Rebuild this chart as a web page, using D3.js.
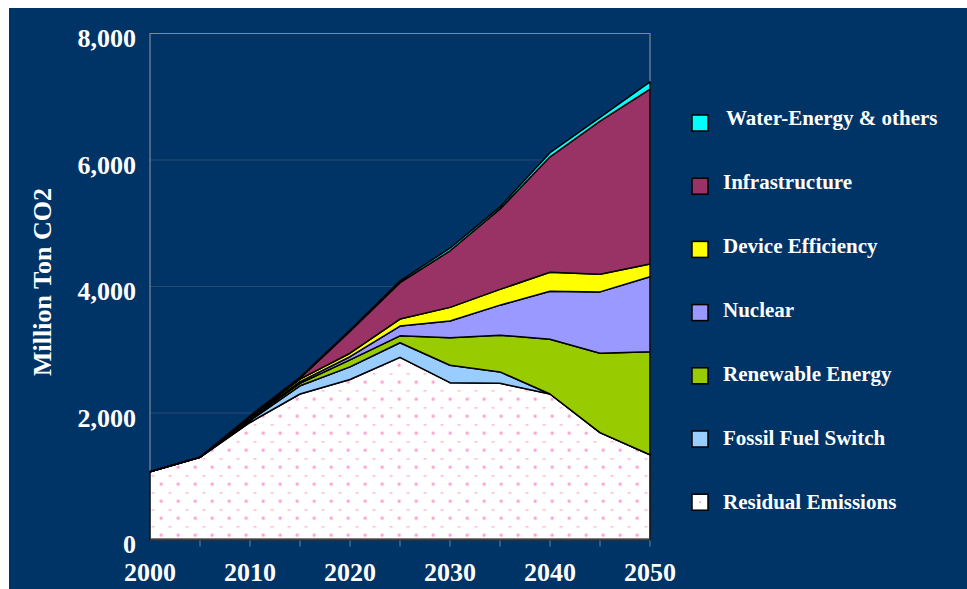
<!DOCTYPE html>
<html>
<head>
<meta charset="utf-8">
<script src="https://cdn.jsdelivr.net/npm/d3@7"></script>
<style>
  body { margin: 0; background: #ffffff; }
  text { font-family: "Liberation Serif", "Times New Roman", serif; font-weight: bold; fill: #ffffff; }
</style>
</head>
<body>
<div id="chart"></div>
<script>
// years on the x axis
var years = [2000, 2005, 2010, 2015, 2020, 2025, 2030, 2035, 2040, 2045, 2050];

// layers, bottom to top (million ton CO2)
var residual       = [1070, 1300, 1850, 2300, 2530, 2880, 2480, 2470, 2300, 1690, 1340];
var fossilSwitch   = [0, 0, 30, 130, 200, 230, 275, 180, 0, 0, 0];
var renewable      = [0, 0, 20, 40, 110, 110, 435, 580, 865, 1255, 1630];
var nuclear        = [0, 0, 10, 25, 50, 155, 265, 475, 760, 970, 1185];
var deviceEff      = [0, 0, 20, 40, 55, 110, 215, 250, 300, 280, 200];
var infrastructure = [0, 0, 15, 15, 350, 575, 895, 1270, 1825, 2420, 2765];
var waterEnergy    = [0, 0, 10, 15, 15, 30, 40, 35, 65, 60, 115];

var seriesNames = ["Residual Emissions", "Fossil Fuel Switch", "Renewable Energy", "Nuclear",
                   "Device Efficiency", "Infrastructure", "Water-Energy & others"];
var seriesValues = [residual, fossilSwitch, renewable, nuclear, deviceEff, infrastructure, waterEnergy];
var seriesColors = ["url(#dots)", "#99ccff", "#99cc00", "#9999ff", "#ffff00", "#993366", "#00ffff"];

var yTicks = [0, 2000, 4000, 6000, 8000];
var xLabels = [2000, 2010, 2020, 2030, 2040, 2050];

var W = 967, H = 589;

var svg = d3.select("#chart").append("svg")
    .attr("width", W)
    .attr("height", H);

// dotted fill for residual emissions
var defs = svg.append("defs");
var pat = defs.append("pattern")
    .attr("id", "dots")
    .attr("patternUnits", "userSpaceOnUse")
    .attr("x", 6.2).attr("y", 6.2)
    .attr("width", 17).attr("height", 17);
pat.append("rect").attr("width", 17).attr("height", 17).attr("fill", "#ffffff");
pat.append("circle").attr("cx", 2).attr("cy", 2).attr("r", 2).attr("fill", "#ffd0e8");
pat.append("circle").attr("cx", 2).attr("cy", 2).attr("r", 1.2).attr("fill", "#ff99cc");
pat.append("rect").attr("x", 9.5).attr("y", 10).attr("width", 2.8).attr("height", 1.4).attr("fill", "#ffaad4");

// navy background
svg.append("rect")
    .attr("x", 9).attr("y", 8)
    .attr("width", W - 9).attr("height", H - 8)
    .attr("fill", "#003366");

var x = d3.scaleLinear().domain([2000, 2050]).range([150, 650]);
var y = d3.scaleLinear().domain([0, 8000]).range([539.5, 33.5]);

// gridlines
svg.append("g")
    .selectAll("line")
    .data(yTicks.slice(1, 4))
    .enter()
    .append("line")
    .attr("x1", x(2000)).attr("x2", x(2050))
    .attr("y1", function (d) { return y(d); })
    .attr("y2", function (d) { return y(d); })
    .attr("stroke", "#264a75")
    .attr("stroke-width", 1);

// plot border (top, left, right)
svg.append("path")
    .attr("d", "M" + x(2000) + "," + y(0) + "V" + y(8000) + "H" + x(2050) + "V" + y(0))
    .attr("fill", "none")
    .attr("stroke", "#7f8a99")
    .attr("stroke-width", 1.2);

// stacked data
var table = years.map(function (yr, i) {
    var row = { year: yr };
    seriesNames.forEach(function (n, k) { row[n] = seriesValues[k][i]; });
    return row;
});
var stacked = d3.stack().keys(seriesNames)(table);

var area = d3.area()
    .x(function (d) { return x(d.data.year); })
    .y0(function (d) { return y(d[0]); })
    .y1(function (d) { return y(d[1]); });

svg.append("g")
    .selectAll("path")
    .data(stacked)
    .enter()
    .append("path")
    .attr("d", area)
    .attr("fill", function (d, i) { return seriesColors[i]; })
    .attr("stroke", "#000000")
    .attr("stroke-width", 1.5)
    .attr("stroke-linejoin", "round");

// x axis line and ticks
svg.append("line")
    .attr("x1", x(2000)).attr("x2", x(2050))
    .attr("y1", y(0)).attr("y2", y(0))
    .attr("stroke", "#404040")
    .attr("stroke-width", 2);

svg.append("g")
    .selectAll("line")
    .data(years.slice(1))
    .enter()
    .append("line")
    .attr("x1", function (d) { return x(d); })
    .attr("x2", function (d) { return x(d); })
    .attr("y1", y(0) + 1).attr("y2", y(0) + 7)
    .attr("stroke", "#6f86a3")
    .attr("stroke-width", 1);

svg.append("g")
    .selectAll("text")
    .data(xLabels)
    .enter()
    .append("text")
    .attr("x", function (d) { return x(d); })
    .attr("y", 581)
    .attr("text-anchor", "middle")
    .style("font-size", "26px")
    .text(function (d) { return d; });

// y axis labels
svg.append("g")
    .selectAll("text")
    .data(yTicks)
    .enter()
    .append("text")
    .attr("x", 136)
    .attr("y", function (d) { return y(d) + 13.5; })
    .attr("text-anchor", "end")
    .style("font-size", "26px")
    .text(function (d) { return d3.format(",")(d); });

svg.append("text")
    .attr("transform", "translate(51,282) rotate(-90)")
    .attr("text-anchor", "middle")
    .style("font-size", "26px")
    .text("Million Ton CO2");

// legend, top entry first
var legendOrder = seriesNames.map(function (n, i) { return i; }).reverse();
var leg = svg.append("g")
    .selectAll("g")
    .data(legendOrder)
    .enter()
    .append("g");

leg.append("rect")
    .attr("x", 692)
    .attr("y", function (d, j) { return 115 + j * 63.2; })
    .attr("width", 16).attr("height", 16)
    .attr("fill", function (d) { return d === 0 ? "#ffffff" : seriesColors[d]; })
    .attr("stroke", "#000000")
    .attr("stroke-width", 1.5);

leg.filter(function (d) { return d === 0; })
    .append("circle")
    .attr("cx", 700).attr("cy", 115 + 6 * 63.2 + 8).attr("r", 1)
    .attr("fill", "#ff99cc");

leg.append("text")
    .attr("x", function (d) { return d === 6 ? 726 : 723; })
    .attr("y", function (d, j) { return 125 + j * 64; })
    .style("font-size", "21px")
    .text(function (d) { return seriesNames[d]; });
</script>
</body>
</html>
